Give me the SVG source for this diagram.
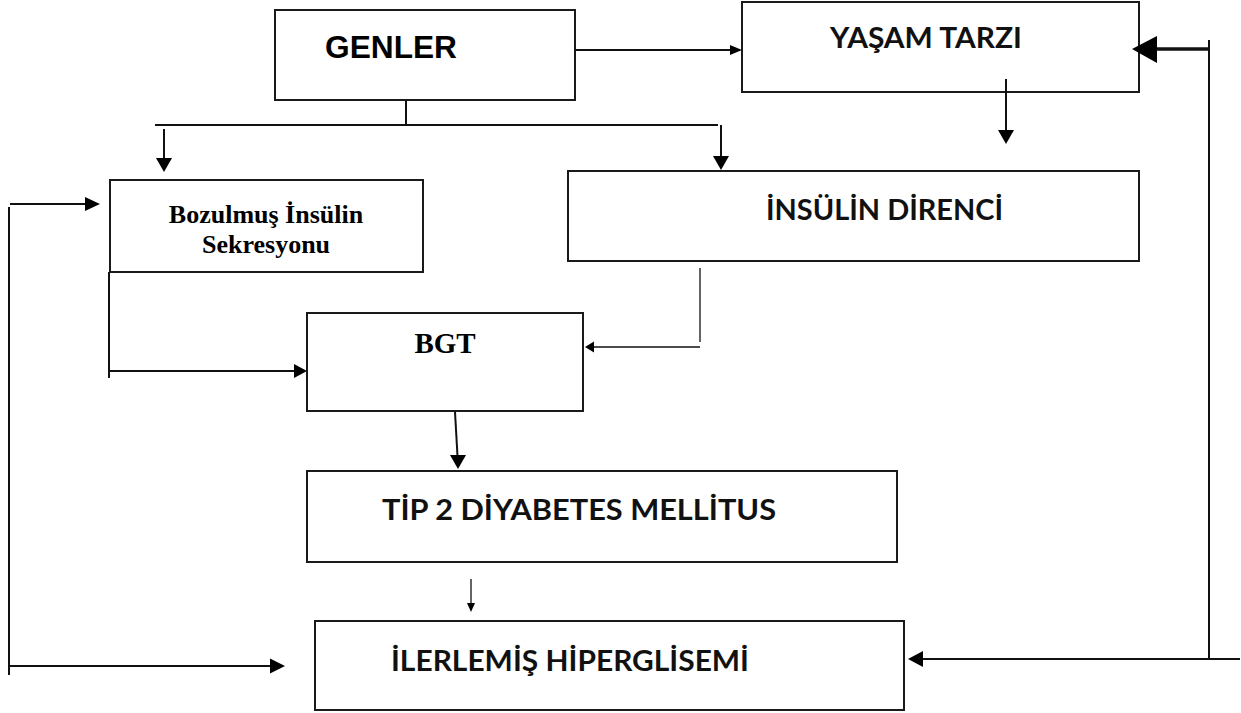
<svg xmlns="http://www.w3.org/2000/svg" width="1241" height="713" viewBox="0 0 1241 713">
<style>
.box{fill:#fff;stroke:#1a1a1a;stroke-width:2}
.ln{fill:none;stroke:#111;stroke-width:2}
.thin{fill:none;stroke:#111;stroke-width:1.3}
.thick{fill:none;stroke:#111;stroke-width:3.5}
.hd{fill:#000;stroke:none}
.sans{font-family:"Lato","Liberation Sans",sans-serif;font-weight:bold;font-size:28px;fill:#111}
.arial{font-family:"Liberation Sans",Arial,sans-serif;font-weight:bold;font-size:31px;fill:#000}
.serif{font-family:"Liberation Serif","Times New Roman",serif;font-weight:bold;fill:#000}
</style>
<rect width="1241" height="713" fill="#fff"/>
<g id="genler">
<rect class="box" x="275" y="10" width="300" height="90"/>
<text class="arial" x="325" y="58" textLength="132" lengthAdjust="spacingAndGlyphs">GENLER</text>
</g>
<g id="yasam">
<rect class="box" x="742" y="2" width="397" height="90"/>
<text class="sans" x="830" y="48" textLength="192" lengthAdjust="spacingAndGlyphs">YAŞAM TARZI</text>
</g>
<g id="bozulmus">
<rect class="box" x="110" y="180" width="313" height="92"/>
<text class="serif" font-size="26" x="266" y="223" text-anchor="middle">Bozulmuş İnsülin</text>
<text class="serif" font-size="26" x="266" y="253" text-anchor="middle">Sekresyonu</text>
</g>
<g id="direnc">
<rect class="box" x="568" y="171" width="571" height="90"/>
<text class="sans" x="766" y="220" textLength="237" lengthAdjust="spacingAndGlyphs">İNSÜLİN DİRENCİ</text>
</g>
<g id="bgt">
<rect class="box" x="307" y="313" width="276" height="98"/>
<text class="serif" font-size="29" x="445" y="353" text-anchor="middle">BGT</text>
</g>
<g id="tip2">
<rect class="box" x="307" y="471" width="590" height="91"/>
<text class="sans" x="382" y="520" textLength="394" lengthAdjust="spacingAndGlyphs">TİP 2 DİYABETES MELLİTUS</text>
</g>
<g id="ilerlemis">
<rect class="box" x="315" y="621" width="589" height="89"/>
<text class="sans" x="391" y="671" textLength="358" lengthAdjust="spacingAndGlyphs">İLERLEMİŞ HİPERGLİSEMİ</text>
</g>
<g id="connectors">
<!-- GENLER -> YASAM -->
<path class="ln" d="M575 50 H731"/>
<polygon class="hd" points="742,50 730,45 730,55"/>
<!-- GENLER split -->
<path class="ln" d="M406 100 V125 M155 125 H718"/>
<path class="ln" d="M164 129 V159"/>
<polygon class="hd" points="164,172 156,158 172,158"/>
<path class="ln" d="M721 125 V157"/>
<polygon class="hd" points="721,170 713,156 729,156"/>
<!-- YASAM -> down -->
<path class="ln" d="M1006 79 V131"/>
<polygon class="hd" points="1006,144 998,130 1014,130"/>
<!-- feedback right -->
<path class="ln" d="M1209 40 V659"/>
<path class="thick" d="M1210 49 H1150"/>
<polygon class="hd" points="1132,49 1157,36 1157,63"/>
<path class="ln" d="M1240 659 H920"/>
<polygon class="hd" points="908,659 923,651 923,667"/>
<!-- feedback left -->
<path class="ln" d="M10 204 H87"/>
<polygon class="hd" points="100,204 85,197 85,211"/>
<path class="ln" d="M9 207 V675 M9 666 H272"/>
<polygon class="hd" points="285,666 270,658.5 270,673.5"/>
<!-- Bozulmus -> BGT -->
<path class="ln" d="M109 272 V378 M109 371 H295"/>
<polygon class="hd" points="307,371 294,364 294,378"/>
<!-- Direnc -> BGT -->
<path class="thin" d="M700 268 V342 M700 347 H592"/>
<polygon class="hd" points="585,347 594,341.5 594,352.5"/>
<!-- BGT -> TIP2 -->
<path class="ln" d="M455 412 L457.5 456"/>
<polygon class="hd" points="458,469 450,455 466,455"/>
<!-- TIP2 -> ILERLEMIS -->
<path class="thin" d="M471 579 V604"/>
<polygon class="hd" points="471,612 467,603 475,603"/>
</g>
</svg>
